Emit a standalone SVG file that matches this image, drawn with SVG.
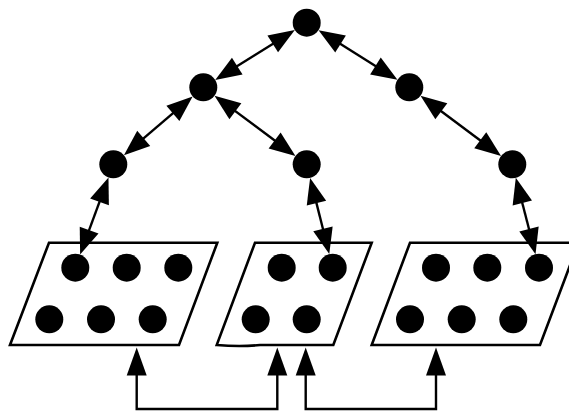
<svg xmlns="http://www.w3.org/2000/svg" xmlns:xlink="http://www.w3.org/1999/xlink" width="569" height="411" viewBox="0 0 569 411">
<style>
.node{fill:#000}
.box{fill:#fff;stroke:#000;stroke-width:2.6;stroke-linejoin:miter}
.edge{fill:none;stroke:#000;stroke-width:2.4}
.head{fill:#000;stroke:none}
</style>
<defs>
<path id="ah" class="head" d="M0,0 L-26,-10 L-26,10 Z"/>
<path id="ahb" class="head" d="M0,0 L-28,-10 L-28,10 Z"/>
</defs>
<rect width="569" height="411" fill="#fff"/>
<g id="box-left">
<path class="box" d="M49,242.7 L217.3,242.7 L179,345 L10,345 Z"/>
<circle class="node" cx="75.3" cy="267.7" r="14"/>
<circle class="node" cx="126.7" cy="267.7" r="14"/>
<circle class="node" cx="178.3" cy="267.7" r="14"/>
<circle class="node" cx="49.3" cy="319.3" r="14"/>
<circle class="node" cx="101" cy="319.3" r="14"/>
<circle class="node" cx="152.7" cy="319.3" r="14"/>
</g>
<g id="box-middle">
<path class="box" d="M255,242.7 L371.7,242.7 L333.3,345 L260,345 Q240,347 216.7,345 Z"/>
<circle class="node" cx="281.7" cy="267.7" r="14"/>
<circle class="node" cx="332.7" cy="267.7" r="14"/>
<circle class="node" cx="255.7" cy="319.3" r="14"/>
<circle class="node" cx="306.7" cy="319.3" r="14"/>
</g>
<g id="box-right">
<path class="box" d="M410,242.7 L578.5,242.7 L540,345 L371.7,345 Z"/>
<circle class="node" cx="436" cy="267.7" r="14"/>
<circle class="node" cx="487.3" cy="267.7" r="14"/>
<circle class="node" cx="539" cy="267.7" r="14"/>
<circle class="node" cx="410" cy="319.3" r="14"/>
<circle class="node" cx="461.7" cy="319.3" r="14"/>
<circle class="node" cx="513.3" cy="319.3" r="14"/>
</g>
<g id="n-top"><circle class="node" cx="306.7" cy="22.7" r="14"/></g>
<g id="n-midleft"><circle class="node" cx="203.3" cy="87.3" r="14"/></g>
<g id="n-midright"><circle class="node" cx="409.3" cy="87.3" r="14"/></g>
<g id="n-lowleft"><circle class="node" cx="113.3" cy="164.3" r="14"/></g>
<g id="n-lowmid"><circle class="node" cx="306.7" cy="164.3" r="14"/></g>
<g id="n-lowright"><circle class="node" cx="512.3" cy="164.3" r="14"/></g>
<g id="connectors">
<line class="edge" x1="286.32" y1="35.4" x2="223.68" y2="74.6"/>
<use xlink:href="#ah" transform="translate(294.8,30.1) rotate(-32)"/>
<use xlink:href="#ah" transform="translate(215.2,79.9) rotate(148)"/>
<line class="edge" x1="327.02" y1="35.49" x2="388.98" y2="74.51"/>
<use xlink:href="#ah" transform="translate(318.55,30.16) rotate(-147.8)"/>
<use xlink:href="#ah" transform="translate(397.45,79.84) rotate(32.2)"/>
<line class="edge" x1="185.06" y1="102.9" x2="131.54" y2="148.7"/>
<use xlink:href="#ah" transform="translate(192.66,96.4) rotate(-40.5)"/>
<use xlink:href="#ah" transform="translate(123.94,155.2) rotate(139.5)"/>
<line class="edge" x1="222.55" y1="101.63" x2="287.45" y2="149.97"/>
<use xlink:href="#ah" transform="translate(214.53,95.66) rotate(-143.3)"/>
<use xlink:href="#ah" transform="translate(295.47,155.94) rotate(36.7)"/>
<line class="edge" x1="428.52" y1="101.67" x2="493.08" y2="149.93"/>
<use xlink:href="#ah" transform="translate(420.51,95.68) rotate(-143.2)"/>
<use xlink:href="#ah" transform="translate(501.09,155.92) rotate(36.8)"/>
<line class="edge" x1="105.02" y1="186.81" x2="83.58" y2="245.19"/>
<use xlink:href="#ah" transform="translate(108.47,177.43) rotate(-69.8)"/>
<use xlink:href="#ah" transform="translate(80.13,254.57) rotate(110.2)"/>
<line class="edge" x1="312.55" y1="187.58" x2="326.85" y2="244.42"/>
<use xlink:href="#ah" transform="translate(310.11,177.88) rotate(-104.1)"/>
<use xlink:href="#ah" transform="translate(329.29,254.12) rotate(75.9)"/>
<line class="edge" x1="518.3" y1="187.53" x2="533" y2="244.47"/>
<use xlink:href="#ah" transform="translate(515.8,177.85) rotate(-104.5)"/>
<use xlink:href="#ah" transform="translate(535.5,254.15) rotate(75.5)"/>
<path class="edge" d="M136.7,358 V409 H277.3 V358"/>
<use xlink:href="#ahb" transform="translate(136.7,347.5) rotate(-90)"/>
<use xlink:href="#ahb" transform="translate(277.3,347.5) rotate(-90)"/>
<path class="edge" d="M305.7,358 V409 H436 V358"/>
<use xlink:href="#ahb" transform="translate(305.7,347.5) rotate(-90)"/>
<use xlink:href="#ahb" transform="translate(436,347.5) rotate(-90)"/>
</g>
</svg>
